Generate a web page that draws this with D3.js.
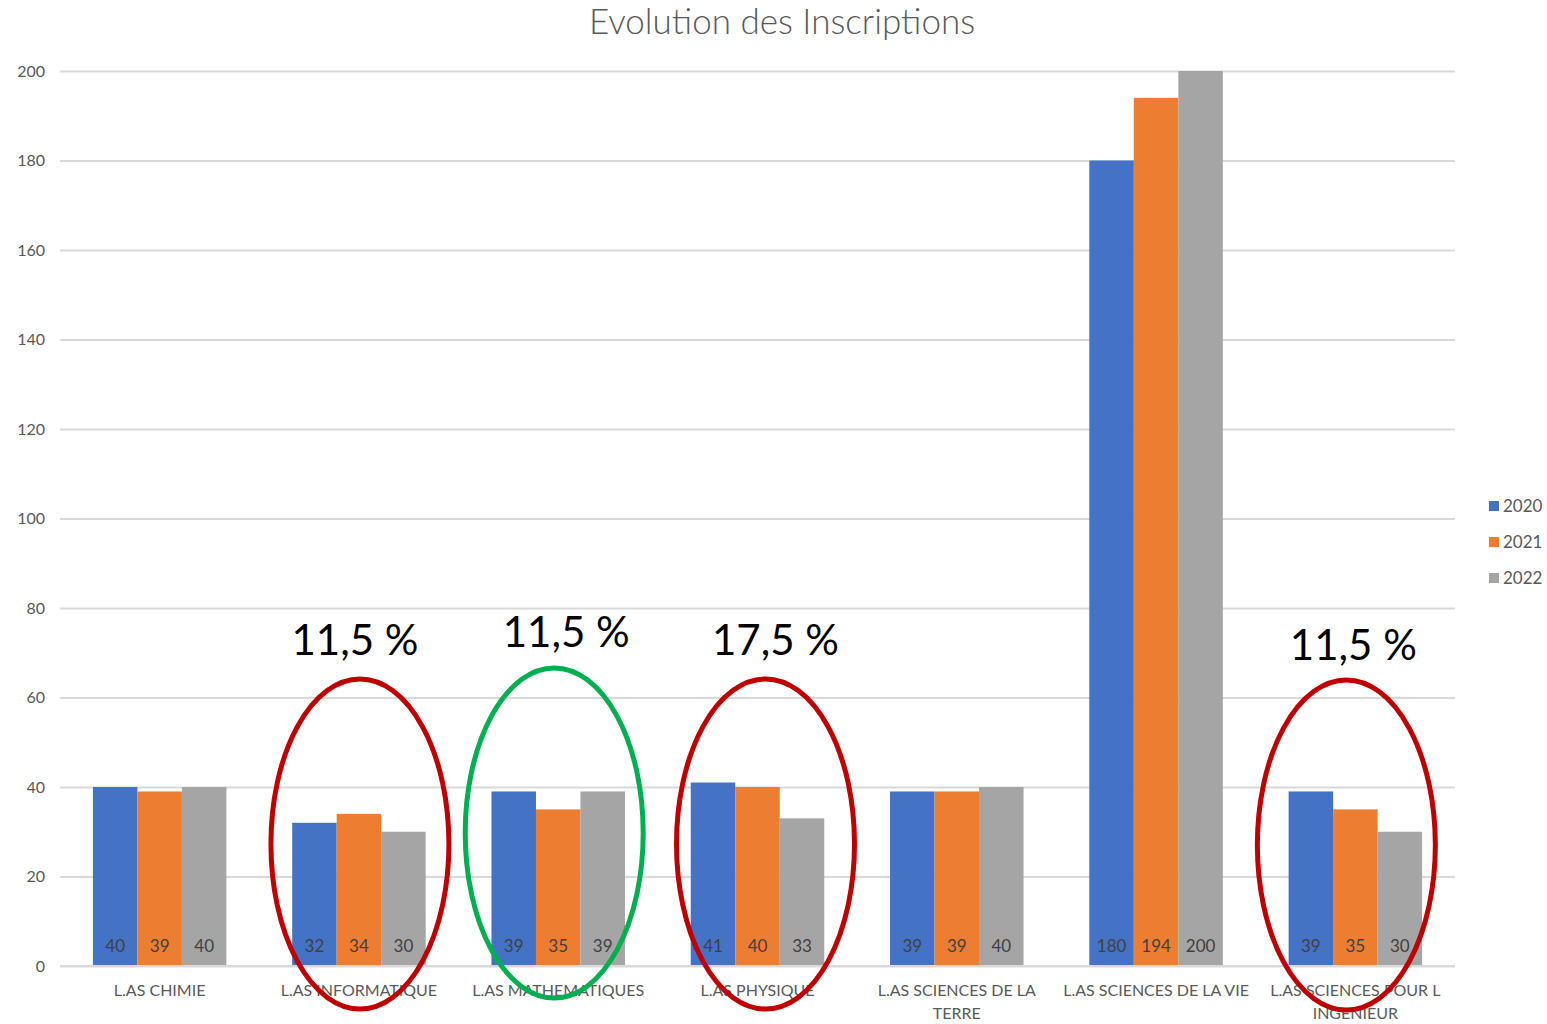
<!DOCTYPE html>
<html>
<head>
<meta charset="utf-8">
<script src="https://cdn.jsdelivr.net/npm/d3@7"></script>
<style>
  body { margin: 0; background: #fff; }
  text { font-family: Lato, "Open Sans", sans-serif; }
</style>
</head>
<body>
<svg id="chart" width="1547" height="1024"></svg>
<script>
// data
var categories = ['L.AS CHIMIE', 'L.AS INFORMATIQUE', 'L.AS MATHEMATIQUES', 'L.AS PHYSIQUE',
                  'L.AS SCIENCES DE LA TERRE', 'L.AS SCIENCES DE LA VIE', 'L.AS SCIENCES POUR L INGENIEUR']
var categoryLines = [['L.AS CHIMIE'], ['L.AS INFORMATIQUE'], ['L.AS MATHEMATIQUES'], ['L.AS PHYSIQUE'],
                     ['L.AS SCIENCES DE LA', 'TERRE'], ['L.AS SCIENCES DE LA VIE'], ['L.AS SCIENCES POUR L', 'INGENIEUR']]
var years = ['2020', '2021', '2022']
var v2020 = [40, 32, 39, 41, 39, 180, 39]
var v2021 = [39, 34, 35, 40, 39, 194, 35]
var v2022 = [40, 30, 39, 33, 40, 200, 30]
var yTicks = [0, 20, 40, 60, 80, 100, 120, 140, 160, 180, 200]

// annotations (ellipse round a group + percentage above)
var noteCats  = ['L.AS INFORMATIQUE', 'L.AS MATHEMATIQUES', 'L.AS PHYSIQUE', 'L.AS SCIENCES POUR L INGENIEUR']
var noteTexts = ['11,5 %', '11,5 %', '17,5 %', '11,5 %']
var noteColors = ['#C00000', '#00B050', '#C00000', '#C00000']

var colors = ['#4472C4', '#ED7D31', '#A5A5A5']
var series = [v2020, v2021, v2022]

function drawChart(){
    var svg = d3.select('#chart')
    var plotLeft = 60, plotRight = 1455, plotTop = 71, plotBottom = 966

    var x = d3.scaleBand().domain(categories).range([plotLeft, plotRight])
    var inner = 133.5 / x.bandwidth()
    var xs = d3.scaleBand().domain(years)
        .range([(1 - inner) / 2 * x.bandwidth(), (1 + inner) / 2 * x.bandwidth()])
    var y = d3.scaleLinear().domain([0, 200]).range([plotBottom, plotTop])

    // title
    svg.append('text')
        .attr('x', 782).attr('y', 34)
        .attr('text-anchor', 'middle')
        .style('font-size', '35px')
        .style('font-weight', 300)
        .attr('fill', '#595959')
        .text('Evolution des Inscriptions')

    // gridlines + y labels
    var yAxis = d3.axisLeft(y).tickValues(yTicks).tickSize(-(plotRight - plotLeft)).tickPadding(15)
    var gy = svg.append('g').attr('transform', 'translate(' + plotLeft + ',0)').call(yAxis)
    gy.select('.domain').remove()
    gy.selectAll('.tick line').attr('stroke', '#D9D9D9').attr('stroke-width', 2)
    gy.selectAll('.tick text').attr('fill', '#595959').style('font-size', '16px')
        .style('font-family', 'Lato, sans-serif')

    // bars
    series.forEach(function(vals, s){
        var g = svg.append('g')
        g.selectAll('rect')
            .data(vals)
            .enter()
            .append('rect')
            .attr('x', function(d, i){ return x(categories[i]) + xs(years[s]) })
            .attr('y', function(d){ return y(d) })
            .attr('width', xs.bandwidth())
            .attr('height', function(d){ return y(0) - y(d) })
            .attr('fill', colors[s])
        g.selectAll('text')
            .data(vals)
            .enter()
            .append('text')
            .attr('x', function(d, i){ return x(categories[i]) + xs(years[s]) + xs.bandwidth() / 2 })
            .attr('y', plotBottom - 14)
            .attr('text-anchor', 'middle')
            .attr('fill', '#404040')
            .style('font-size', '17px')
            .text(function(d){ return d })
    })

    // x axis line + labels
    svg.append('line')
        .attr('x1', plotLeft).attr('x2', plotRight)
        .attr('y1', plotBottom).attr('y2', plotBottom)
        .attr('stroke', '#D9D9D9').attr('stroke-width', 2)

    categories.forEach(function(c, i){
        var t = svg.append('text')
            .attr('text-anchor', 'middle')
            .attr('fill', '#595959')
            .style('font-size', '16px')
        categoryLines[i].forEach(function(line, k){
            t.append('tspan')
                .attr('x', x(c) + x.bandwidth() / 2)
                .attr('y', 996 + k * 23)
                .text(line)
        })
    })

    // legend
    years.forEach(function(yr, i){
        var ly = 506 + i * 36
        svg.append('rect').attr('x', 1489).attr('y', ly - 5).attr('width', 10).attr('height', 10).attr('fill', colors[i])
        svg.append('text').attr('x', 1503).attr('y', ly + 6)
            .attr('fill', '#595959').style('font-size', '17px').text(yr)
    })

    // annotations
    var ellOffset = [1, -4, 8, -9]
    var ellCy = [844, 833, 844, 845]
    var txtOffset = [-4, 8, 18, -2]
    var txtY = [655, 647, 655, 660]
    noteCats.forEach(function(c, i){
        var cx = x(c) + x.bandwidth() / 2
        svg.append('ellipse')
            .attr('cx', cx + ellOffset[i]).attr('cy', ellCy[i])
            .attr('rx', 89).attr('ry', 165)
            .attr('fill', 'none')
            .attr('stroke', noteColors[i]).attr('stroke-width', 5)
        svg.append('text')
            .attr('x', cx + txtOffset[i]).attr('y', txtY[i])
            .attr('text-anchor', 'middle')
            .attr('fill', '#000')
            .style('font-size', '42px')
            .text(noteTexts[i])
    })
}

drawChart()
</script>
</body>
</html>
